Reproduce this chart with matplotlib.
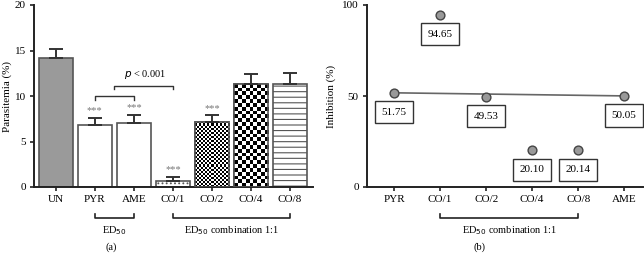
import numpy as np
import matplotlib
matplotlib.use("Agg")
import matplotlib.pyplot as plt

plt.rcParams['font.family'] = ['Liberation Serif', 'DejaVu Serif']
plt.rcParams['hatch.linewidth'] = 0.8
plt.rcParams['hatch.color'] = "#333333"

# ---- data ----
groups_a = ["UN", "PYR", "AME", "CO/1", "CO/2", "CO/4", "CO/8"]
parasitemia = [14.2, 6.8, 7.05, 0.7, 7.15, 11.3, 11.3]
para_err = [1.0, 0.8, 0.9, 0.45, 0.75, 1.1, 1.2]
signif = ["", "***", "***", "***", "***", "", ""]

groups_b = ["PYR", "CO/1", "CO/2", "CO/4", "CO/8", "AME"]
inhibition = [51.75, 94.65, 49.53, 20.10, 20.14, 50.05]
inhib_labels = ["51.75", "94.65", "49.53", "20.10", "20.14", "50.05"]

W, H = 644, 261
fig = plt.figure(figsize=(W / 100, H / 100), dpi=100)

def fx(px):
    return px / W

def fy(py):
    return 1 - py / H

axA = fig.add_axes([fx(34), fy(187), fx(313 - 34), fy(5) - fy(187)])
axB = fig.add_axes([fx(367), fy(187), fx(643 - 367), fy(5) - fy(187)])

FS = 7.5
TFS = 8
edge = "#555555"
for ax in (axA, axB):
    for s in ("top", "right"):
        ax.spines[s].set_visible(False)
    for s in ("left", "bottom"):
        ax.spines[s].set_linewidth(1.4)
        ax.spines[s].set_color("#222222")
    ax.tick_params(axis="both", labelsize=TFS, width=1.2, length=3, color="#222222", pad=3)

# ---- panel (a) ----
x = np.arange(len(groups_a))
bw = 0.88
faces = ["#9a9a9a", "white", "white", "white", "white", "white", "white"]
hatches = [None, None, None, "....", None, None, "---"]
bars = axA.bar(x, parasitemia, width=bw, color=faces, edgecolor=edge, linewidth=1.2, zorder=2)
for b, h in zip(bars, hatches):
    if h:
        b.set_hatch(h)
        b.set_edgecolor(edge)

axA.set_xlim(-0.56, 6.59)
axA.set_ylim(0, 20)

def checker(bar, n_across):
    x0, y0 = bar.get_x(), bar.get_y()
    w, h = bar.get_width(), bar.get_height()
    cell_w = w / n_across
    p0 = axA.transData.transform((0, 0))
    p1 = axA.transData.transform((1, 1))
    px_per_x = p1[0] - p0[0]
    px_per_y = p1[1] - p0[1]
    cell_h = cell_w * px_per_x / px_per_y
    ny = int(np.ceil(h / cell_h))
    pat = (np.add.outer(np.arange(ny), np.arange(n_across)) % 2).astype(float)
    im = axA.imshow(pat, cmap="gray", vmin=0, vmax=1, origin="lower",
                    extent=(x0, x0 + n_across * cell_w, y0, y0 + ny * cell_h),
                    interpolation="nearest", aspect="auto", zorder=2.5)
    im.set_clip_path(bar)
    axA.bar(bar.get_x() + w / 2, h, width=w, facecolor="none",
            edgecolor=edge, linewidth=1.2, zorder=3)

checker(bars[4], 17)
checker(bars[5], 9)

axA.errorbar(x, parasitemia, yerr=[np.zeros(len(x)), para_err], fmt="none",
             ecolor="#333333", elinewidth=1.4, capsize=5, capthick=1.4, zorder=4)
for xi, v, e, s in zip(x, parasitemia, para_err, signif):
    if s:
        axA.text(xi, v + e + 0.25, s, ha="center", va="bottom", fontsize=FS,
                 color="#777777")

axA.set_yticks([0, 5, 10, 15, 20])
axA.set_xticks(x)
axA.set_xticklabels(groups_a)
axA.set_ylabel("Parasitemia (%)", fontsize=TFS, labelpad=2)

def bracket(ax, x1, x2, y, d, lw=1.0, color="#333333"):
    ax.plot([x1, x1, x2, x2], [y - d, y, y, y - d], color=color, lw=lw, clip_on=False)

bracket(axA, 1, 2, 9.95, 0.35)
bracket(axA, 1.5, 3, 11.15, 0.35)
axA.text(2.3, 11.7, r"$\it{p}$ < 0.001", ha="center", va="bottom", fontsize=FS)

def under_bracket(ax, x1, x2, label, xt):
    trans = ax.get_xaxis_transform()
    yb = -(218 - 187) / 182
    yt = -(214 - 187) / 182
    ax.plot([x1, x1, x2, x2], [yt, yb, yb, yt], color="#222222", lw=1.2,
            transform=trans, clip_on=False)
    ax.text(xt, -(231 - 187) / 182, label, transform=trans, ha="center",
            va="center", fontsize=FS)

under_bracket(axA, 1, 2, r"ED$_{50}$", 1.5)
under_bracket(axA, 3, 6, r"ED$_{50}$ combination 1:1", 4.5)
fig.text(fx(111), fy(247), "(a)", ha="center", va="center", fontsize=FS)

# ---- panel (b) ----
xb = np.arange(len(groups_b))
axB.set_xlim(-0.59, 5.41)
axB.set_ylim(0, 100)
axB.plot([xb[0], xb[-1]], [inhibition[0], inhibition[-1]], color="#666666", lw=1.2, zorder=2)
axB.scatter(xb, inhibition, s=40, color="#999999", edgecolor="#444444", linewidth=1.0, zorder=3)
for xi, v, lab in zip(xb, inhibition, inhib_labels):
    axB.annotate(lab, (xi, v), xytext=(0, -14), textcoords="offset points",
                 ha="center", va="center", fontsize=8,
                 bbox=dict(boxstyle="square,pad=0.6", fc="white", ec="#333333", lw=1.0))
axB.set_yticks([0, 50, 100])
axB.set_xticks(xb)
axB.set_xticklabels(groups_b)
axB.set_ylabel("Inhibition (%)", fontsize=TFS, labelpad=4)
under_bracket(axB, 1, 4, r"ED$_{50}$ combination 1:1", 2.5)
fig.text(fx(480), fy(247), "(b)", ha="center", va="center", fontsize=FS)

fig.savefig("out.png", dpi=100)
